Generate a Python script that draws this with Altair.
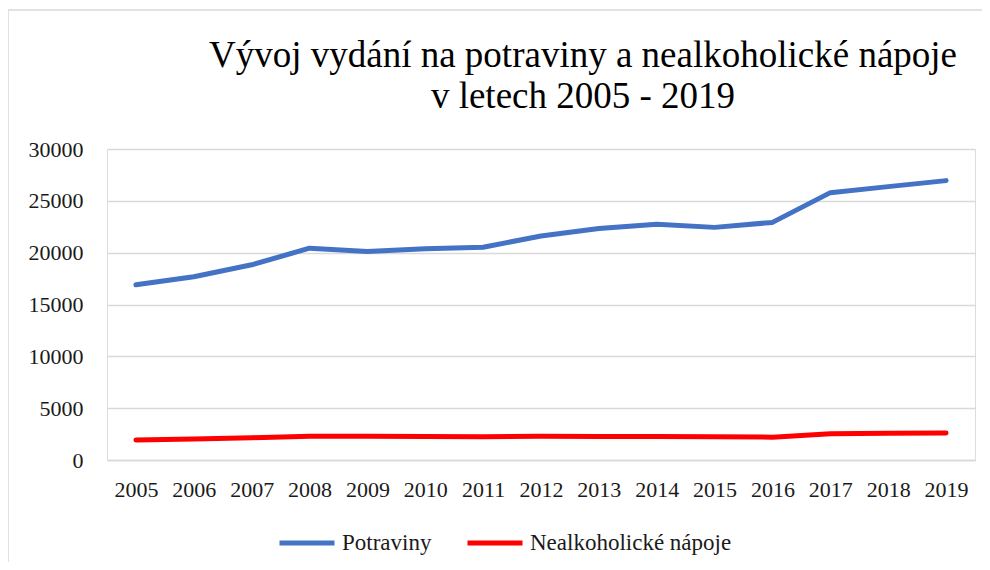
import altair as alt
import pandas as pd

years = [str(y) for y in range(2005, 2020)]
potraviny = [16900, 17670, 18830, 20430, 20120, 20380, 20530, 21600,
             22340, 22730, 22440, 22920, 25790, 26370, 26950]
napoje = [1930, 2030, 2150, 2300, 2280, 2270, 2250, 2300,
          2260, 2260, 2250, 2200, 2540, 2580, 2600]
series_names = ["Potraviny", "Nealkoholické nápoje"]
series_colors = ["#4472C4", "#FF0000"]
y_ticks = [0, 5000, 10000, 15000, 20000, 25000, 30000]
title_lines = ["Vývoj vydání na potraviny a nealkoholické nápoje",
               "v letech 2005 - 2019"]

rows = []
for i, y in enumerate(years):
    rows.append({"rok": y, "serie": series_names[0], "hodnota": potraviny[i]})
    rows.append({"rok": y, "serie": series_names[1], "hodnota": napoje[i]})
df = pd.DataFrame(rows)

FONT = "'Liberation Serif', 'Times New Roman', 'DejaVu Serif', serif"
W, H = 868, 311

lines = alt.Chart(df).mark_line(strokeWidth=5, strokeCap="round", strokeJoin="round").encode(
    x=alt.X("rok:O", title=None,
            scale=alt.Scale(type="point", padding=0.5),
            axis=alt.Axis(labelAngle=0, ticks=False, domain=True, domainColor="#d9d9d9",
                          domainWidth=1.5, labelFont=FONT, labelFontSize=22,
                          labelColor="#1a1a1a", labelPadding=19, grid=False)),
    y=alt.Y("hodnota:Q", title=None,
            scale=alt.Scale(domain=[0, 30000], nice=False),
            axis=alt.Axis(values=y_ticks, format="d", ticks=False, domain=False, grid=True,
                          gridColor="#d9d9d9", gridWidth=1.5, labelFont=FONT,
                          labelFontSize=22, labelColor="#1a1a1a", labelPadding=24)),
    color=alt.Color("serie:N", sort=series_names,
                    scale=alt.Scale(domain=series_names, range=series_colors),
                    legend=alt.Legend(title=None, orient="none", legendX=170, legendY=364,
                                      direction="horizontal", columns=2,
                                      symbolType="stroke", symbolSize=3025,
                                      symbolStrokeWidth=5, labelFont=FONT,
                                      labelFontSize=23, labelColor="#1a1a1a",
                                      labelOffset=5, columnPadding=25, labelLimit=400)),
    order=alt.Order("rok:O"),
)

title_df = pd.DataFrame({"t": ["\n".join(title_lines)]})
title = alt.Chart(title_df).mark_text(
    font=FONT, fontSize=37, color="#000000", align="center", baseline="alphabetic",
    lineBreak="\n", lineHeight=41
).encode(text="t:N", x=alt.value(476), y=alt.value(-82))

border = alt.Chart(pd.DataFrame({"k": [0]})).mark_rule(color="#d9d9d9", strokeWidth=1.5).encode(
    x=alt.value(-99), x2=alt.value(880), y=alt.value(-139)
)
border_left = alt.Chart(pd.DataFrame({"k": [0]})).mark_rule(color="#d9d9d9", strokeWidth=1.5).encode(
    x=alt.value(-99), y=alt.value(-139), y2=alt.value(420)
)

chart = alt.layer(border, border_left, title, lines).properties(
    width=W, height=H,
    padding={"left": 99, "top": 141, "right": 7, "bottom": 102},
    autosize=alt.AutoSizeParams(type="none"),
).configure_view(stroke=None).configure(background="white")

chart.save("out.html", embed_options={"renderer": "svg", "actions": False})
